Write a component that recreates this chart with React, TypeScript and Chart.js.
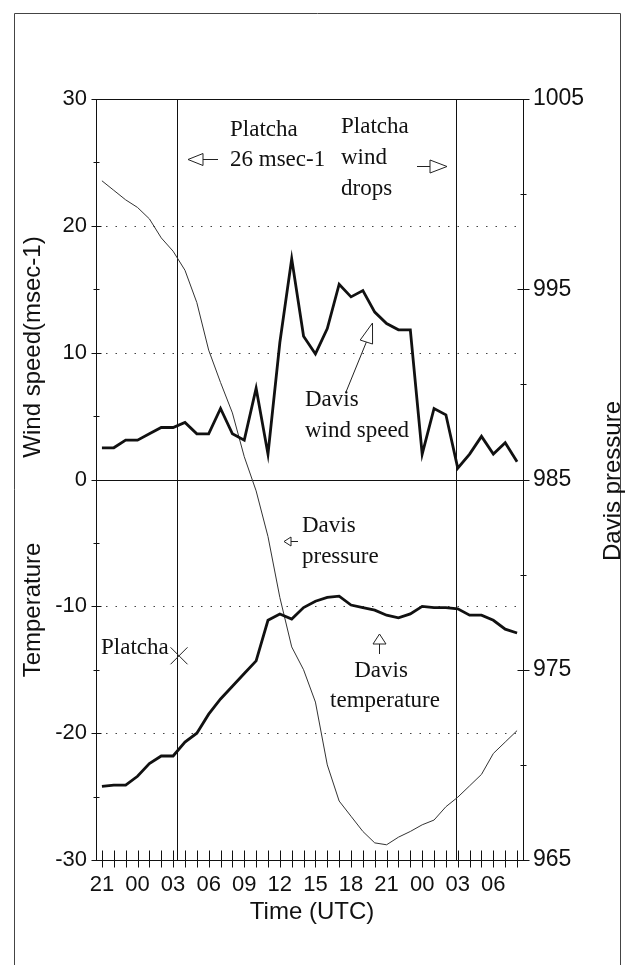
import React, { useEffect, useRef } from 'react';
import { Chart, registerables } from 'chart.js';

Chart.register(...registerables);

// ---- data (hours after 21 UTC of day 1) ----
const hours = [0, 1, 2, 3, 4, 5, 6, 7, 8, 9, 10, 11, 12, 13, 14, 15, 16, 17, 18, 19, 20, 21, 22, 23, 24, 25, 26, 27, 28, 29, 30, 31, 32, 33, 34, 35];

const windSpeed = [2.5, 2.5, 3.1, 3.1, 3.6, 4.1, 4.1, 4.5, 3.6, 3.6, 5.6, 3.6, 3.1, 7.2, 2.0, 10.8, 17.4, 11.3, 9.9, 11.9, 15.4, 14.4, 14.9, 13.2, 12.3, 11.8, 11.8, 2.0, 5.6, 5.1, 0.9, 2.0, 3.4, 2.0, 2.9, 1.4];

const temperature = [-24.2, -24.1, -24.1, -23.4, -22.4, -21.8, -21.8, -20.7, -20.0, -18.5, -17.3, -16.3, -15.3, -14.3, -11.1, -10.6, -11.0, -10.1, -9.6, -9.3, -9.2, -9.9, -10.1, -10.3, -10.7, -10.9, -10.6, -10.0, -10.1, -10.1, -10.2, -10.7, -10.7, -11.1, -11.8, -12.1];

const pressure = [1000.7, 1000.2, 999.7, 999.3, 998.7, 997.7, 997.0, 996.0, 994.3, 991.8, 990.1, 988.5, 986.2, 984.4, 982.0, 978.8, 976.2, 975.0, 973.3, 970.0, 968.1, 967.3, 966.5, 965.9, 965.8, 966.2, 966.5, 966.85, 967.1, 967.8, 968.3, 968.9, 969.5, 970.6, 971.2, 971.8];

const platchaHour = [6.5];
const platchaTemp = [-13.9];

const xTickHours = [0, 3, 6, 9, 12, 15, 18, 21, 24, 27, 30, 33];
const xTickLabels = ['21', '00', '03', '06', '09', '12', '15', '18', '21', '00', '03', '06'];
const leftTicks = [-30, -20, -10, 0, 10, 20, 30];
const leftMinorTicks = [-25, -15, -5, 5, 15, 25];
const rightTicks = [965, 975, 985, 995, 1005];
const rightMinorTicks = [970, 980, 990, 1000];
const dottedGrid = [-20, -10, 10, 20];
const platchaLines = [6.3, 29.85];

const SANS = '"Liberation Sans", Arial, sans-serif';
const SERIF = '"Liberation Serif", "Times New Roman", serif';

function openTriangle(ctx, tip, dir, len, half) {
  const [tx, ty] = tip;
  const [dx, dy] = dir;
  const bx = tx - dx * len;
  const by = ty - dy * len;
  const px = -dy, py = dx;
  ctx.beginPath();
  ctx.moveTo(tx, ty);
  ctx.lineTo(bx + px * half, by + py * half);
  ctx.lineTo(bx - px * half, by - py * half);
  ctx.closePath();
  ctx.fillStyle = '#fff';
  ctx.fill();
  ctx.stroke();
  return [bx, by];
}

const decorPlugin = {
  id: 'decor',
  beforeDraw(chart) {
    const ctx = chart.ctx;
    ctx.save();
    ctx.fillStyle = '#fff';
    ctx.fillRect(0, 0, chart.width, chart.height);
    // outer frame
    ctx.strokeStyle = '#444';
    ctx.lineWidth = 1;
    ctx.beginPath();
    ctx.moveTo(14.5, chart.height);
    ctx.lineTo(14.5, 13.5);
    ctx.lineTo(620.5, 13.5);
    ctx.lineTo(620.5, chart.height);
    ctx.stroke();
    ctx.restore();
  },
  beforeDatasetsDraw(chart) {
    const { ctx, chartArea, scales } = chart;
    const { left, right, top, bottom } = chartArea;
    const x = scales.x, y = scales.y, y1 = scales.y1;
    const L = Math.round(left) + 0.5;
    const R = Math.round(right) + 0.5;
    const T = Math.round(top) + 0.5;
    const B = Math.round(bottom) + 0.5;
    ctx.save();
    ctx.strokeStyle = '#222';
    ctx.lineWidth = 1;
    // dotted grid
    ctx.setLineDash([1.5, 8]);
    ctx.strokeStyle = '#444';
    dottedGrid.forEach((v) => {
      const py = Math.round(y.getPixelForValue(v)) + 0.5;
      ctx.beginPath();
      ctx.moveTo(L, py);
      ctx.lineTo(R, py);
      ctx.stroke();
    });
    ctx.setLineDash([]);
    ctx.strokeStyle = '#111';
    // zero line
    const pz = Math.round(y.getPixelForValue(0)) + 0.5;
    ctx.beginPath();
    ctx.moveTo(L, pz);
    ctx.lineTo(R, pz);
    ctx.stroke();
    // vertical Platcha lines
    platchaLines.forEach((h) => {
      const px = Math.round(x.getPixelForValue(h)) + 0.5;
      ctx.beginPath();
      ctx.moveTo(px, T);
      ctx.lineTo(px, B);
      ctx.stroke();
    });
    // plot box
    ctx.beginPath();
    ctx.rect(L, T, R - L, B - T);
    ctx.stroke();
    // left ticks
    leftTicks.forEach((v) => {
      const py = Math.round(y.getPixelForValue(v)) + 0.5;
      ctx.beginPath();
      ctx.moveTo(L - 5, py);
      ctx.lineTo(L + 5, py);
      ctx.stroke();
    });
    leftMinorTicks.forEach((v) => {
      const py = Math.round(y.getPixelForValue(v)) + 0.5;
      ctx.beginPath();
      ctx.moveTo(L - 3, py);
      ctx.lineTo(L + 3, py);
      ctx.stroke();
    });
    // right ticks
    rightTicks.forEach((v) => {
      const py = Math.round(y1.getPixelForValue(v)) + 0.5;
      ctx.beginPath();
      ctx.moveTo(R - 6, py);
      ctx.lineTo(R + 6, py);
      ctx.stroke();
    });
    rightMinorTicks.forEach((v) => {
      const py = Math.round(y1.getPixelForValue(v)) + 0.5;
      ctx.beginPath();
      ctx.moveTo(R - 3, py);
      ctx.lineTo(R + 3, py);
      ctx.stroke();
    });
    // bottom hourly ticks
    hours.forEach((h) => {
      const px = Math.round(x.getPixelForValue(h)) + 0.5;
      ctx.beginPath();
      ctx.moveTo(px, B - 10);
      ctx.lineTo(px, B + 7);
      ctx.stroke();
    });
    ctx.restore();
  },
  afterDatasetsDraw(chart) {
    const ctx = chart.ctx;
    ctx.save();
    ctx.fillStyle = '#111';
    // axis titles
    ctx.font = `24px ${SANS}`;
    ctx.textAlign = 'center';
    ctx.textBaseline = 'middle';
    const rot = (text, cx, cy) => {
      ctx.save();
      ctx.translate(cx, cy);
      ctx.rotate(-Math.PI / 2);
      ctx.fillText(text, 0, 0);
      ctx.restore();
    };
    rot('Wind speed(msec-1)', 33, 347);
    rot('Temperature', 33, 610);
    rot('Davis pressure', 613, 481);
    ctx.fillText('Time (UTC)', 312, 912);

    // annotations
    ctx.font = `23px ${SERIF}`;
    ctx.textBaseline = 'alphabetic';
    ctx.textAlign = 'left';
    ctx.fillText('Platcha', 230, 136);
    ctx.fillText('26 msec-1', 230, 166);
    ctx.fillText('Platcha', 341, 133);
    ctx.fillText('wind', 341, 164);
    ctx.fillText('drops', 341, 195);
    ctx.fillText('Davis', 305, 406);
    ctx.fillText('wind speed', 305, 437);
    ctx.fillText('Davis', 302, 532);
    ctx.fillText('pressure', 302, 563);
    ctx.fillText('Platcha', 101, 654);
    ctx.textAlign = 'center';
    ctx.fillText('Davis', 381, 677);
    ctx.fillText('temperature', 385, 707);

    // arrows
    ctx.strokeStyle = '#222';
    ctx.lineWidth = 1;
    let b = openTriangle(ctx, [188, 159.5], [-1, 0], 15, 6);
    ctx.beginPath(); ctx.moveTo(b[0], b[1]); ctx.lineTo(218, 159.5); ctx.stroke();
    b = openTriangle(ctx, [447, 166.5], [1, 0], 17, 6.5);
    ctx.beginPath(); ctx.moveTo(b[0], b[1]); ctx.lineTo(417, 166.5); ctx.stroke();
    const d = [29, -90];
    const n = Math.hypot(d[0], d[1]);
    b = openTriangle(ctx, [372.5, 323], [d[0] / n, d[1] / n], 20, 6.5);
    ctx.beginPath(); ctx.moveTo(b[0], b[1]); ctx.lineTo(346, 392); ctx.stroke();
    b = openTriangle(ctx, [284, 541.5], [-1, 0], 7, 4.5);
    ctx.beginPath(); ctx.moveTo(b[0], b[1]); ctx.lineTo(298, 541.5); ctx.stroke();
    b = openTriangle(ctx, [379.5, 634], [0, -1], 10, 6.5);
    ctx.beginPath(); ctx.moveTo(b[0], b[1]); ctx.lineTo(379.5, 654); ctx.stroke();
    ctx.restore();
  },
};

export default function App() {
  const ref = useRef(null);
  useEffect(() => {
    const canvas = ref.current;
    if (!canvas) return;
    const toXY = (ys) => hours.map((h, i) => ({ x: h, y: ys[i] }));
    const chart = new Chart(canvas, {
      type: 'line',
      data: {
        datasets: [
          {
            label: 'Davis wind speed',
            data: toXY(windSpeed),
            yAxisID: 'y',
            borderColor: '#111',
            borderWidth: 2.8,
            pointRadius: 0,
            tension: 0,
            fill: false,
          },
          {
            label: 'Davis temperature',
            data: toXY(temperature),
            yAxisID: 'y',
            borderColor: '#111',
            borderWidth: 2.8,
            pointRadius: 0,
            tension: 0,
            fill: false,
          },
          {
            label: 'Davis pressure',
            data: toXY(pressure),
            yAxisID: 'y1',
            borderColor: '#333',
            borderWidth: 1,
            pointRadius: 0,
            tension: 0,
            fill: false,
          },
          {
            label: 'Platcha temperature',
            data: platchaHour.map((h, i) => ({ x: h, y: platchaTemp[i] })),
            yAxisID: 'y',
            showLine: false,
            pointStyle: 'crossRot',
            pointRadius: 12,
            borderColor: '#222',
            borderWidth: 1,
          },
        ],
      },
      options: {
        responsive: false,
        animation: false,
        devicePixelRatio: 1,
        layout: { padding: { top: 99, left: 0, right: 0, bottom: 0 } },
        plugins: {
          legend: { display: false },
          tooltip: { enabled: false },
          title: { display: false },
        },
        scales: {
          x: {
            type: 'linear',
            min: -0.5,
            max: 35.5,
            grid: { display: false, drawTicks: false },
            border: { display: false },
            afterBuildTicks: (s) => {
              s.ticks = xTickHours.map((v) => ({ value: v }));
            },
            afterFit: (s) => {
              s.height = 105;
            },
            ticks: {
              autoSkip: false,
              maxRotation: 0,
              minRotation: 0,
              padding: 12,
              color: '#111',
              font: { family: SANS, size: 22 },
              callback: (v, i) => xTickLabels[i],
            },
          },
          y: {
            type: 'linear',
            position: 'left',
            min: -30,
            max: 30,
            grid: { display: false, drawTicks: false },
            border: { display: false },
            afterBuildTicks: (s) => {
              s.ticks = leftTicks.map((v) => ({ value: v }));
            },
            afterFit: (s) => {
              s.width = 96;
            },
            ticks: {
              padding: 9,
              color: '#111',
              font: { family: SANS, size: 22 },
              callback: (v) => String(v),
            },
          },
          y1: {
            type: 'linear',
            position: 'right',
            min: 965,
            max: 1005,
            grid: { display: false, drawTicks: false },
            border: { display: false },
            afterBuildTicks: (s) => {
              s.ticks = rightTicks.map((v) => ({ value: v }));
            },
            afterFit: (s) => {
              s.width = 110;
            },
            ticks: {
              padding: 10,
              color: '#111',
              font: { family: SANS, size: 23 },
              callback: (v) => String(v),
            },
          },
        },
      },
      plugins: [decorPlugin],
    });
    return () => chart.destroy();
  }, []);
  return (
    <div style={{ position: 'absolute', left: 0, top: 0, width: 633, height: 965 }}>
      <canvas ref={ref} width={633} height={965} style={{ display: 'block' }} />
    </div>
  );
}
